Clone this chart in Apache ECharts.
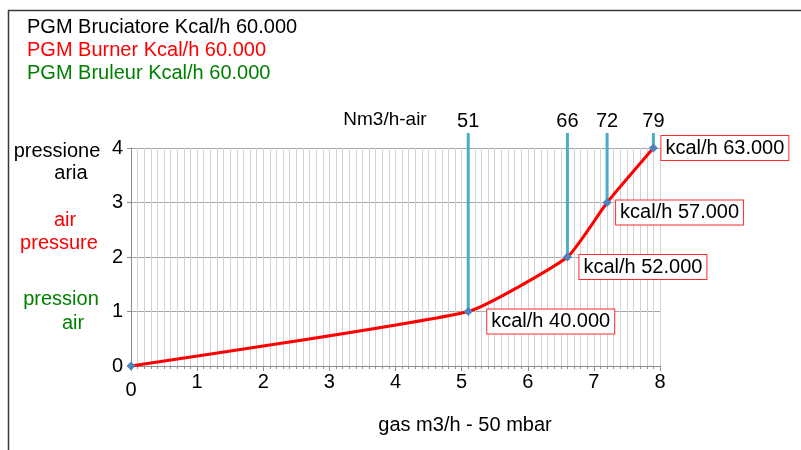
<!DOCTYPE html>
<html>
<head>
<meta charset="utf-8">
<title>PGM Bruciatore Kcal/h 60.000</title>
<script src="https://cdn.jsdelivr.net/npm/echarts@6/dist/echarts.min.js"></script>
<style>
  html, body { margin: 0; padding: 0; background: #fff; }
  #chart { width: 801px; height: 450px; }
</style>
</head>
<body>
<div id="chart"></div>
<script>
// Burner working curve: gas flow vs. air pressure, with air flow and heat output at each step
const gasFlow = [0, 5.1, 6.6, 7.2, 7.9];          // gas m3/h - 50 mbar
const airPressure = [0, 1, 2, 3, 4];              // air pressure
const airFlow = [null, 51, 66, 72, 79];           // Nm3/h-air
const heatOutput = [null, 'kcal/h 40.000', 'kcal/h 52.000', 'kcal/h 57.000', 'kcal/h 63.000'];
const xTicks = [0, 1, 2, 3, 4, 5, 6, 7, 8];
const yTicks = [0, 1, 2, 3, 4];

const FONT = '"Liberation Sans", Arial, sans-serif';
const labelOffsets = [[0, 0], [14.5, 10], [7.5, 10], [4.5, 10], [3.5, 0]];

const curveData = gasFlow.map((g, i) => {
  const item = { value: [g, airPressure[i]] };
  if (heatOutput[i]) {
    item.label = {
      show: true,
      formatter: heatOutput[i],
      offset: labelOffsets[i]
    };
  }
  return item;
});

const flowData = [];
gasFlow.forEach((g, i) => {
  if (airFlow[i] != null) flowData.push([g, airPressure[i], airFlow[i]]);
});

const chart = echarts.init(document.getElementById('chart'), null, { renderer: 'canvas' });

chart.setOption({
  animation: false,
  backgroundColor: '#ffffff',
  textStyle: { fontFamily: FONT },
  grid: { left: 131, right: 141, top: 148, bottom: 84, containLabel: false },
  xAxis: {
    type: 'value',
    min: xTicks[0],
    max: xTicks[xTicks.length - 1],
    interval: 1,
    axisLine: { show: true, lineStyle: { color: '#8c8c8c', width: 1 } },
    axisTick: { show: true, length: 5, lineStyle: { color: '#8c8c8c' } },
    minorTick: { show: true, splitNumber: 10, length: 3, lineStyle: { color: '#8c8c8c' } },
    splitLine: { show: true, lineStyle: { color: '#d2d2d2', width: 1 } },
    minorSplitLine: { show: true, lineStyle: { color: '#d2d2d2', width: 1 } },
    axisLabel: {
      margin: 6,
      color: '#000',
      fontSize: 20,
      fontFamily: FONT,
      formatter: v => (v === 0 ? '{z|0}' : String(v)),
      rich: { z: { fontSize: 20, fontFamily: FONT, color: '#000', padding: [8, 0, 0, 0] } }
    }
  },
  yAxis: {
    type: 'value',
    min: yTicks[0],
    max: yTicks[yTicks.length - 1],
    interval: 1,
    axisLine: { show: true, lineStyle: { color: '#8c8c8c', width: 1 } },
    axisTick: { show: true, length: 4, lineStyle: { color: '#8c8c8c' } },
    splitLine: { show: true, lineStyle: { color: '#a6a6a6', width: 1 } },
    axisLabel: { margin: 8, color: '#000', fontSize: 20, fontFamily: FONT }
  },
  series: [
    {
      // vertical air-flow markers with their Nm3/h values above the plot
      type: 'custom',
      z: 1,
      clip: false,
      data: flowData,
      renderItem: (params, api) => {
        const p = api.coord([api.value(0), api.value(1)]);
        const top = params.coordSys.y - 15;
        return {
          type: 'group',
          children: [
            {
              type: 'line',
              shape: { x1: p[0], y1: p[1], x2: p[0], y2: top },
              style: { stroke: '#4BACC6', lineWidth: 3 }
            },
            {
              type: 'text',
              x: p[0],
              y: top - 12,
              style: {
                text: String(api.value(2)),
                fill: '#000',
                font: '20px ' + FONT,
                align: 'center',
                verticalAlign: 'middle'
              }
            }
          ]
        };
      }
    },
    {
      type: 'line',
      z: 3,
      data: curveData,
      smooth: 0.15,
      symbol: 'diamond',
      symbolSize: 9,
      showAllSymbol: true,
      lineStyle: { color: '#ff0000', width: 3 },
      itemStyle: { color: '#4F81BD' },
      label: {
        show: false,
        position: 'right',
        distance: 0,
        color: '#000',
        fontSize: 20,
        fontFamily: FONT,
        backgroundColor: '#ffffff',
        borderColor: '#ff2a2a',
        borderWidth: 1,
        padding: [1, 4, 0, 4],
        lineHeight: 23
      }
    }
  ],
  graphic: [
    // outer frame
    { type: 'line', shape: { x1: 8, y1: 10.5, x2: 801, y2: 10.5 }, style: { stroke: '#3a3a3a', lineWidth: 1.5 } },
    { type: 'line', shape: { x1: 8.5, y1: 10, x2: 8.5, y2: 450 }, style: { stroke: '#3a3a3a', lineWidth: 1.5 } },
    // titles
    { type: 'text', left: 27, top: 17, style: { text: 'PGM Bruciatore Kcal/h 60.000', fill: '#000000', font: '20px ' + FONT } },
    { type: 'text', left: 27, top: 40, style: { text: 'PGM Burner Kcal/h 60.000', fill: '#ff0000', font: '20px ' + FONT } },
    { type: 'text', left: 27, top: 63, style: { text: 'PGM Bruleur Kcal/h 60.000', fill: '#008000', font: '20px ' + FONT } },
    // air flow heading
    { type: 'text', x: 385, y: 120, style: { text: 'Nm3/h-air', fill: '#000', font: '19px ' + FONT, align: 'center', verticalAlign: 'middle' } },
    // y axis titles
    { type: 'text', x: 57, y: 151, style: { text: 'pressione', fill: '#000', font: '20px ' + FONT, align: 'center', verticalAlign: 'middle' } },
    { type: 'text', x: 71, y: 173, style: { text: 'aria', fill: '#000', font: '20px ' + FONT, align: 'center', verticalAlign: 'middle' } },
    { type: 'text', x: 65, y: 220, style: { text: 'air', fill: '#ff0000', font: '20px ' + FONT, align: 'center', verticalAlign: 'middle' } },
    { type: 'text', x: 59, y: 243, style: { text: 'pressure', fill: '#ff0000', font: '20px ' + FONT, align: 'center', verticalAlign: 'middle' } },
    { type: 'text', x: 61, y: 299, style: { text: 'pression', fill: '#008000', font: '20px ' + FONT, align: 'center', verticalAlign: 'middle' } },
    { type: 'text', x: 73, y: 323, style: { text: 'air', fill: '#008000', font: '20px ' + FONT, align: 'center', verticalAlign: 'middle' } },
    // x axis title
    { type: 'text', x: 465, y: 425, style: { text: 'gas m3/h - 50 mbar', fill: '#000', font: '20px ' + FONT, align: 'center', verticalAlign: 'middle' } }
  ]
});
</script>
</body>
</html>
